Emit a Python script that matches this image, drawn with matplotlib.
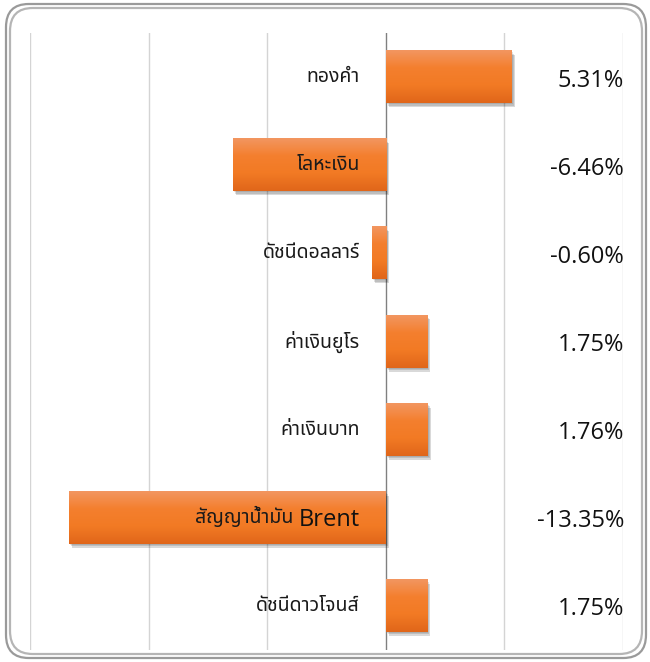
import numpy as np
import matplotlib
matplotlib.use("Agg")
import matplotlib.pyplot as plt
from matplotlib import font_manager
from matplotlib.patches import FancyBboxPatch, Rectangle
import matplotlib.transforms as mtransforms

categories = ["ทองคำ", "โลหะเงิน", "ดัชนีดอลลาร์", "ค่าเงินยูโร", "ค่าเงินบาท",
              "สัญญาน้ำมัน", "ดัชนีดาวโจนส์"]
category_suffix = ["", "", "", "", "", "Brent", ""]
values = [5.31, -6.46, -0.60, 1.75, 1.76, -13.35, 1.75]
value_labels = ["5.31%", "-6.46%", "-0.60%", "1.75%", "1.76%", "-13.35%", "1.75%"]

# font ไทย เลือกจากชื่อไฟล์
paths = font_manager.findSystemFonts()
thai_fp = None
for want in ["NotoSansThai-Regular", "NotoSansThaiUI-Regular", "NotoSansThai[",
             "Sarabun-Regular", "Athiti-Regular", "Loma.otf"]:
    hit = [p for p in paths if p.split("/")[-1].startswith(want)]
    if hit:
        thai_fp = font_manager.FontProperties(fname=sorted(hit)[0], size=14)
        break

latin = ["Open Sans", "DejaVu Sans"]

fig = plt.figure(figsize=(6.5, 6.62), dpi=100)
W, H = 650, 662

# กรอบโค้ง
for (x0, y0, x1, y1, c) in [(6, 4, 646, 658, "#9a9a9a"), (10, 8, 642, 654, "#b5b5b5")]:
    fig.patches.append(FancyBboxPatch((x0 / W, y0 / H), (x1 - x0) / W, (y1 - y0) / H,
                                      boxstyle="round,pad=0,rounding_size=0.035",
                                      transform=fig.transFigure, fill=False,
                                      edgecolor=c, lw=1.6))

ax = fig.add_axes([30 / W, 1 - 650 / H, (623 - 30) / W, (650 - 33) / H])
ax.set_xticks([-15, -10, -5, 5, 10])
ax.xaxis.grid(True, color="#d4d4d4", lw=1)
ax.axvline(0, color="#808080", lw=1, zorder=2)
ax.tick_params(length=0, labelbottom=False, labelleft=False)
for s in ax.spines.values():
    s.set_visible(False)
ax.set_axisbelow(True)

grad = np.linspace(0, 1, 64).reshape(-1, 1)
cmap = matplotlib.colors.LinearSegmentedColormap.from_list(
    "bar", ["#f29660", "#f47f2e", "#f27a24", "#e0661a"])
h = 0.59

for i, v in enumerate(values):
    left, right = min(0, v), max(0, v)
    # เงา
    for k, a in enumerate([0.10, 0.12, 0.15]):
        ax.add_patch(Rectangle((left, i - h / 2), right - left, h, color="#000000",
                               alpha=a, lw=0, zorder=3,
                               transform=mtransforms.offset_copy(ax.transData, fig=fig,
                                                                 x=1 + k, y=-1 - k * 1.5,
                                                                 units="dots")))
    ax.imshow(grad, cmap=cmap, aspect="auto", zorder=4,
              extent=[left, right, i + h / 2, i - h / 2])

ax.set_xlim(-15, 10)
ax.set_ylim(len(categories) - 0.5, -0.5)

fig.canvas.draw()
r = fig.canvas.get_renderer()
for i, c in enumerate(categories):
    off = -26
    if category_suffix[i]:
        t = ax.text(0, i + 0.02, category_suffix[i], ha="right", va="center",
                    fontsize=17, family=latin, color="#111111", zorder=6,
                    transform=mtransforms.offset_copy(ax.transData, fig=fig, x=off, y=0,
                                                      units="dots"))
        off -= t.get_window_extent(r).width + 5
    ax.text(0, i, c, ha="right", va="center", fontproperties=thai_fp,
            color="#1a1a1a", zorder=5,
            transform=mtransforms.offset_copy(ax.transData, fig=fig, x=off, y=0,
                                              units="dots"))

for i, lab in enumerate(value_labels):
    ax.text(10.05, i + 0.04, lab, ha="right", va="center", fontsize=17,
            family=latin, color="#111111")

fig.savefig("out.png", dpi=100)
